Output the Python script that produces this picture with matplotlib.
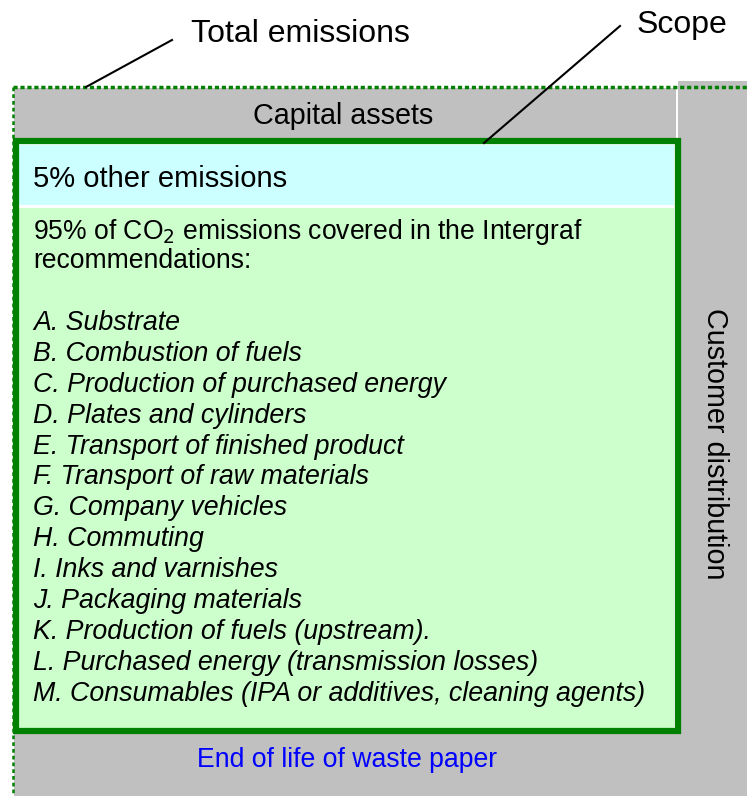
import matplotlib.pyplot as plt
from matplotlib.patches import Rectangle

plt.rcParams['font.family'] = ['Liberation Sans', 'DejaVu Sans']

# diagram content
items = [
    "A. Substrate",
    "B. Combustion of fuels",
    "C. Production of purchased energy",
    "D. Plates and cylinders",
    "E. Transport of finished product",
    "F. Transport of raw materials",
    "G. Company vehicles",
    "H. Commuting",
    "I. Inks and varnishes",
    "J. Packaging materials",
    "K. Production of fuels (upstream).",
    "L. Purchased energy (transmission losses)",
    "M. Consumables (IPA or additives, cleaning agents)",
]
covered_share = 95
other_share = 5

GRAY = '#c0c0c0'
GREEN = '#008000'

fig = plt.figure(figsize=(7.47, 7.96), dpi=100)
ax = fig.add_axes([0, 0, 1, 1])
ax.set_xlim(0, 747)
ax.set_ylim(796, 0)
ax.axis('off')

# grey areas
ax.add_patch(Rectangle((14, 88), 662, 708, fc=GRAY, ec='none'))
ax.add_patch(Rectangle((678, 81), 69, 715, fc=GRAY, ec='none'))
ax.add_patch(Rectangle((14, 730), 733, 66, fc=GRAY, ec='none'))

# total emissions dotted border
ax.plot([12.5, 747], [87, 87], color=GREEN, lw=2.5, ls=(0, (1.2, 0.8)))
ax.plot([12.5, 12.5], [87, 796], color=GREEN, lw=1.8, ls=(0, (1.5, 1.2)))

# scope box
ax.add_patch(Rectangle((17, 144), 659, 585, fc='white', ec='none'))
ax.add_patch(Rectangle((18, 145), 656, 60, fc='#ccffff', ec='none'))
ax.add_patch(Rectangle((18, 208), 656, 520, fc='#ccffcc', ec='none'))
ax.add_patch(Rectangle((16, 140.5), 662, 590, fc='none', ec=GREEN, lw=4.5))

# callout lines
ax.plot([86, 172], [87, 40], color='black', lw=1.5)
ax.plot([484, 620], [143, 26], color='black', lw=1.5)

ax.text(300, 34, "Total emissions", fontsize=23, ha='center', va='center')
ax.text(682, 25, "Scope", fontsize=23, ha='center', va='center')
ax.text(343, 116, "Capital assets", fontsize=20.7, ha='center', va='center')
ax.text(33, 179, f"{other_share}% other emissions", fontsize=21, va='center')
ax.text(33, 232, f"{covered_share}% of CO$_2$ emissions covered in the Intergraf",
        fontsize=19.1, va='center')
ax.text(33, 261, "recommendations:", fontsize=19.1, va='center')

y0, step = 323, 30.9
for i, it in enumerate(items):
    ax.text(33, y0 + i * step, it, fontsize=19.3, style='italic', va='center')

ax.text(715, 444, "Customer distribution", fontsize=20.7, rotation=-90,
        ha='center', va='center')
ax.text(347, 760, "End of life of waste paper", fontsize=19.2, color='blue',
        ha='center', va='center')

fig.savefig('out.png', dpi=100)
